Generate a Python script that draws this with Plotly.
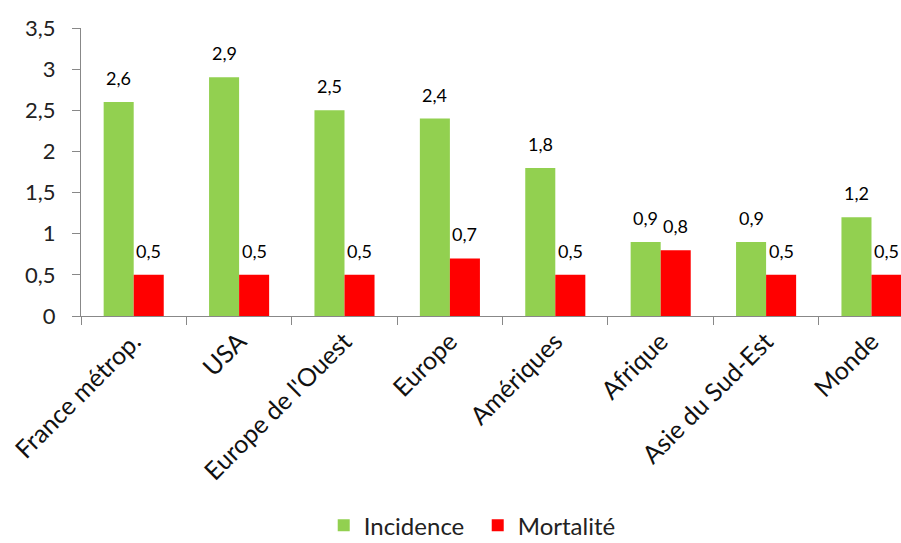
import plotly.graph_objects as go

categories = ["France métrop.", "USA", "Europe de l'Ouest", "Europe", "Amériques", "Afrique", "Asie du Sud-Est", "Monde"]
incidence = [2.6, 2.9, 2.5, 2.4, 1.8, 0.9, 0.9, 1.2]
mortalite = [0.5, 0.5, 0.5, 0.7, 0.5, 0.8, 0.5, 0.5]
y_ticks = [0, 0.5, 1, 1.5, 2, 2.5, 3, 3.5]

GREEN = "#92D050"
RED = "#FF0000"
FONT = "Lato"

fig = go.Figure()
fig.add_trace(go.Bar(name="Incidence", x=categories, y=incidence, marker=dict(color=GREEN, line=dict(width=0))))
fig.add_trace(go.Bar(name="Mortalité", x=categories, y=mortalite, marker=dict(color=RED, line=dict(width=0))))

def fmt(v):
    return f"{v:.1f}".replace(".", ",")

for c, v in zip(categories, incidence):
    fig.add_annotation(x=c, y=v, text=fmt(v), showarrow=False, xshift=-15, yshift=24,
                       yanchor="middle", font=dict(family=FONT, size=18, color="#000"))
for c, v in zip(categories, mortalite):
    fig.add_annotation(x=c, y=v, text=fmt(v), showarrow=False, xshift=15, yshift=24,
                       yanchor="middle", font=dict(family=FONT, size=18, color="#000"))

fig.update_layout(
    width=901, height=543,
    margin=dict(l=81, r=0, t=28, b=227, autoexpand=False),
    paper_bgcolor="white", plot_bgcolor="white",
    separators=", ",
    barmode="group", bargap=0.43, bargroupgap=0,
    font=dict(family=FONT, color="#222"),
    showlegend=True,
    legend=dict(orientation="h", x=0.296, xanchor="left", y=-0.728, yanchor="middle",
                font=dict(family=FONT, size=24, color="#222"), itemsizing="constant",
                traceorder="normal", itemwidth=30, entrywidth=109, entrywidthmode="pixels"),
    xaxis=dict(range=[-0.5, 7.28], tickangle=-45, tickson="boundaries", ticks="outside",
               ticklen=8, tickcolor="#888", showline=True, linecolor="#888", linewidth=1,
               automargin=False,
               tickfont=dict(family=FONT, size=25, color="#111"), showgrid=False, fixedrange=True),
    yaxis=dict(range=[0, 3.5], tickvals=y_ticks, ticks="outside", ticklen=8, tickcolor="#888",
               ticklabelstandoff=12, automargin=False,
               showline=True, linecolor="#888", linewidth=1, showgrid=False, zeroline=False,
               tickfont=dict(family=FONT, size=22, color="#222")),
)

fig.write_html("out.html")
